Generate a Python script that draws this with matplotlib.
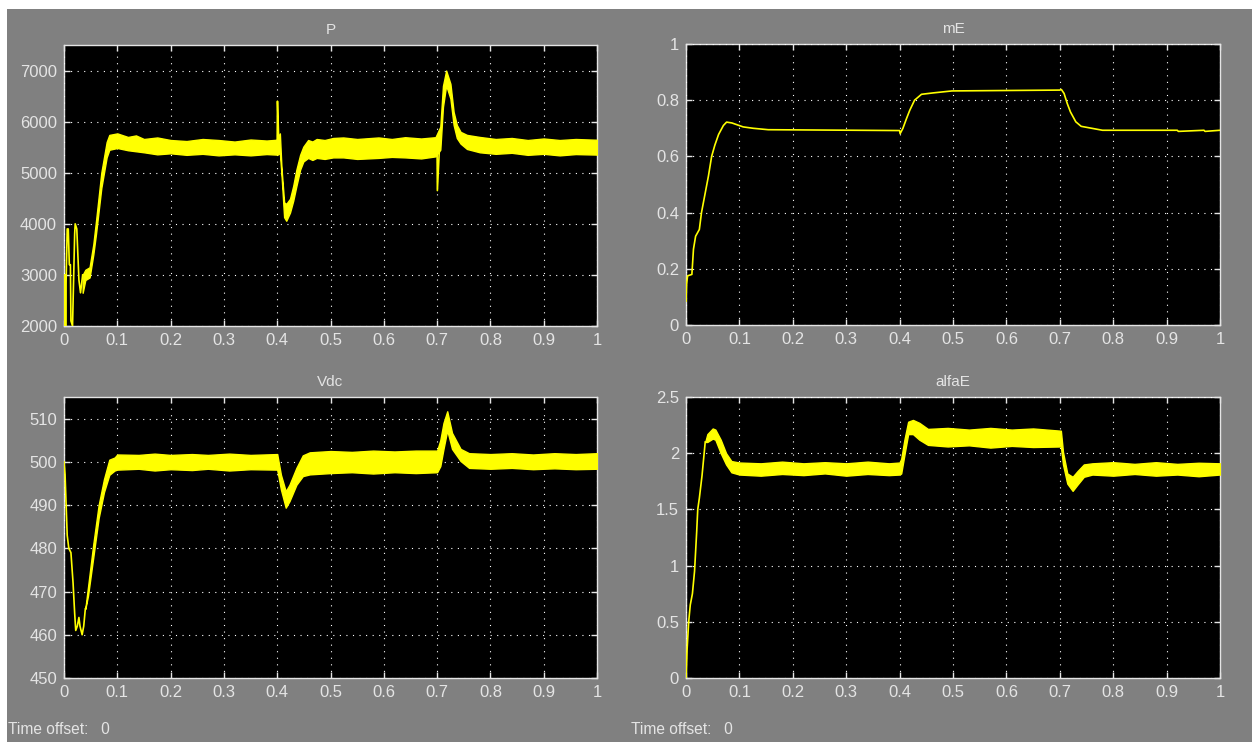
import matplotlib
matplotlib.use('Agg')
import matplotlib.pyplot as plt

plt.rcParams['font.family'] = ['Liberation Sans', 'DejaVu Sans']

P_thin_t = [0, 0.001, 0.002, 0.003, 0.004, 0.006, 0.008, 0.01, 0.012, 0.013, 0.016, 0.018, 0.02, 0.021,
            0.024, 0.026, 0.028, 0.031, 0.035]
P_thin = [2000, 3000, 3000, 2000, 2900, 3900, 3900, 3200, 3200, 2100, 2000, 2900, 3800, 4000,
          3900, 3400, 2900, 2650, 3000]
P_t = [0.035, 0.04, 0.048, 0.055, 0.06, 0.07, 0.08, 0.085, 0.1, 0.12, 0.135, 0.15, 0.175, 0.2, 0.23, 0.26, 0.29,
       0.32, 0.35, 0.38, 0.399, 0.401, 0.405, 0.408, 0.413, 0.417, 0.424, 0.43, 0.436, 0.443, 0.449, 0.458, 0.466,
       0.474, 0.489, 0.505, 0.524, 0.55, 0.59, 0.615, 0.64, 0.67, 0.697, 0.706, 0.711, 0.717, 0.725, 0.731, 0.737,
       0.744, 0.756, 0.78, 0.81, 0.84, 0.87, 0.9, 0.93, 0.96, 1]
P_hi = [3000, 3100, 3150, 3600, 4050, 5000, 5600, 5740, 5770, 5700, 5730, 5660, 5690, 5640, 5620, 5660, 5640,
        5610, 5650, 5630, 5645, 5700, 5770, 5100, 4420, 4390, 4490, 4740, 5060, 5350, 5510, 5640, 5610,
        5660, 5640, 5680, 5690, 5660, 5690, 5660, 5695, 5670, 5695, 5900, 6700, 7000, 6740, 6190, 5935,
        5800, 5740, 5700, 5660, 5680, 5640, 5670, 5640, 5660, 5645]
P_lo = [2650, 2900, 2950, 3400, 3800, 4700, 5300, 5450, 5484, 5440, 5420, 5400, 5360, 5380, 5350, 5370, 5340,
        5360, 5340, 5365, 5355, 5355, 5390, 4970, 4130, 4060, 4220, 4450, 4740, 5060, 5220, 5290, 5250,
        5290, 5270, 5300, 5300, 5270, 5290, 5310, 5300, 5280, 5320, 5450, 6290, 6710, 6450, 5935, 5680,
        5570, 5465, 5400, 5370, 5390, 5350, 5370, 5340, 5365, 5355]
P_spike1_t = [0.4, 0.4005, 0.403]
P_spike1 = [5600, 6400, 5600]
P_spike2_t = [0.7, 0.7005, 0.704]
P_spike2 = [5400, 4650, 5400]

mE_t = [0, 0.001, 0.003, 0.011, 0.014, 0.018, 0.025, 0.029, 0.036, 0.042, 0.048, 0.054, 0.061, 0.07, 0.076,
        0.086, 0.107, 0.126, 0.154, 0.4, 0.401, 0.406, 0.413, 0.419, 0.428, 0.441, 0.463, 0.498, 0.7, 0.703,
        0.708, 0.714, 0.72, 0.73, 0.74, 0.76, 0.78, 0.92, 0.922, 0.97, 0.972, 1]
mE = [0.085, 0.145, 0.175, 0.18, 0.27, 0.316, 0.34, 0.40, 0.47, 0.53, 0.60, 0.64, 0.678, 0.71, 0.722,
      0.719, 0.705, 0.70, 0.695, 0.692, 0.681, 0.699, 0.735, 0.764, 0.80, 0.821, 0.826, 0.833, 0.836, 0.838,
      0.824, 0.788, 0.758, 0.723, 0.707, 0.70, 0.693, 0.693, 0.689, 0.693, 0.689, 0.693]

Vdc_thin_t = [0, 0.002, 0.004, 0.006, 0.009, 0.013, 0.017, 0.02, 0.022, 0.025, 0.028, 0.03, 0.034, 0.037, 0.04]
Vdc_thin = [500, 497, 490, 483, 480, 479, 472, 465, 461, 462, 464, 462, 460, 462, 466]
Vdc_t = [0.04, 0.045, 0.055, 0.065, 0.075, 0.085, 0.095, 0.1, 0.14, 0.17, 0.2, 0.24, 0.27, 0.31, 0.35, 0.4,
         0.407, 0.416, 0.423, 0.436, 0.448, 0.461, 0.5, 0.54, 0.58, 0.62, 0.66, 0.7, 0.706, 0.712, 0.719, 0.728,
         0.744, 0.76, 0.8, 0.84, 0.88, 0.92, 0.96, 1]
Vdc_hi = [466, 471, 481, 490, 496, 500.5, 501, 501.7, 501.6, 501.9, 501.6, 501.8, 501.6, 501.9, 501.6, 501.8,
          497, 493.2, 494.7, 498.6, 501.5, 502.2, 502.5, 502.3, 502.6, 502.4, 502.6, 502.6, 505, 509, 511.7, 506.7,
          503, 502, 501.8, 502, 501.7, 502, 501.8, 502]
Vdc_lo = [466, 469, 478, 487, 493, 497, 498, 498.2, 498.4, 498, 498.3, 498.1, 498.4, 498, 498.3, 498.2,
          493.6, 489.4, 490.9, 494.7, 496.7, 497.1, 497.4, 497.6, 497.3, 497.6, 497.4, 497.6, 499, 503, 507.3, 503,
          500.2, 498.6, 498.4, 498.6, 498.3, 498.5, 498.3, 498.4]

alfa_thin_t = [0, 0.002, 0.005, 0.008, 0.012, 0.016, 0.02, 0.022, 0.025, 0.03, 0.034, 0.036]
alfa_thin = [0, 0.25, 0.5, 0.65, 0.75, 0.95, 1.3, 1.5, 1.6, 1.8, 2.0, 2.1]
alfa_t = [0.036, 0.04, 0.05, 0.055, 0.065, 0.075, 0.085, 0.1, 0.14, 0.18, 0.22, 0.26, 0.3, 0.34, 0.38, 0.4, 0.403,
          0.409, 0.416, 0.425, 0.437, 0.453, 0.49, 0.53, 0.57, 0.61, 0.65, 0.702, 0.706, 0.714, 0.724, 0.733,
          0.745, 0.761, 0.8, 0.84, 0.88, 0.92, 0.96, 1]
alfa_hi = [2.1, 2.17, 2.22, 2.21, 2.12, 2.0, 1.93, 1.917, 1.91, 1.925, 1.91, 1.92, 1.91, 1.925, 1.91, 1.917, 1.95,
           2.12, 2.28, 2.296, 2.27, 2.216, 2.225, 2.21, 2.225, 2.21, 2.22, 2.2, 2.01, 1.82, 1.79, 1.84,
           1.90, 1.91, 1.92, 1.905, 1.92, 1.905, 1.915, 1.91]
alfa_lo = [2.1, 2.1, 2.13, 2.12, 2.0, 1.9, 1.83, 1.81, 1.80, 1.815, 1.805, 1.82, 1.80, 1.815, 1.805, 1.81, 1.82,
           1.985, 2.17, 2.17, 2.12, 2.074, 2.06, 2.07, 2.05, 2.065, 2.055, 2.06, 1.90, 1.73, 1.665, 1.72,
           1.79, 1.81, 1.80, 1.815, 1.80, 1.81, 1.795, 1.81]

x_ticks = [0, 0.1, 0.2, 0.3, 0.4, 0.5, 0.6, 0.7, 0.8, 0.9, 1]
x_labels = ['0', '0.1', '0.2', '0.3', '0.4', '0.5', '0.6', '0.7', '0.8', '0.9', '1']

W, H = 1252, 742
YELLOW = '#ffff00'
GRAY = '#808080'
LIGHT = '#e4e4e4'


def make_axes(fig, left, top, right, bottom):
    ax = fig.add_axes([left / W, 1 - bottom / H, (right - left) / W, (bottom - top) / H])
    ax.set_facecolor('black')
    for s in ax.spines.values():
        s.set_color(LIGHT)
        s.set_linewidth(1)
    ax.set_xlim(0, 1)
    ax.set_xticks(x_ticks, x_labels)
    ax.tick_params(colors=LIGHT, labelsize=12, length=4, width=1, direction='in', pad=5,
                   top=True, right=True)
    ax.grid(True, color='white', linestyle=(0, (1, 4.9)), linewidth=0.8)
    ax.set_axisbelow(False)
    return ax


def band(ax, t, lo, hi):
    ax.fill_between(t, lo, hi, color=YELLOW, linewidth=1, zorder=3)


fig = plt.figure(figsize=(W / 100, H / 100), dpi=100, facecolor='white')
fig.add_artist(plt.Rectangle((7 / W, 0), 1 - 7 / W, 1 - 9 / H, transform=fig.transFigure, color=GRAY, lw=0,
                             zorder=-1))

ax1 = make_axes(fig, 64, 45, 597, 326)
ax1.set_ylim(2000, 7500)
ax1.set_yticks([2000, 3000, 4000, 5000, 6000, 7000])
ax1.plot(P_thin_t, P_thin, color=YELLOW, lw=1.2, zorder=3)
ax1.plot(P_spike1_t, P_spike1, color=YELLOW, lw=1.2, zorder=3)
ax1.plot(P_spike2_t, P_spike2, color=YELLOW, lw=1.2, zorder=3)
band(ax1, P_t, P_lo, P_hi)
ax1.set_title('P', color=LIGHT, fontsize=11, pad=8)

ax2 = make_axes(fig, 686, 44, 1220, 325)
ax2.set_ylim(0, 1)
ax2.set_yticks([0, 0.2, 0.4, 0.6, 0.8, 1], ['0', '0.2', '0.4', '0.6', '0.8', '1'])
ax2.plot(mE_t, mE, color=YELLOW, lw=1.2, zorder=3)
ax2.set_title('mE', color=LIGHT, fontsize=11, pad=8)

ax3 = make_axes(fig, 64, 397, 597, 678)
ax3.set_ylim(450, 515)
ax3.set_yticks([450, 460, 470, 480, 490, 500, 510])
ax3.plot(Vdc_thin_t, Vdc_thin, color=YELLOW, lw=1.2, zorder=3)
band(ax3, Vdc_t, Vdc_lo, Vdc_hi)
ax3.set_title('Vdc', color=LIGHT, fontsize=11, pad=8)

ax4 = make_axes(fig, 686, 397, 1220, 678)
ax4.set_ylim(0, 2.5)
ax4.set_yticks([0, 0.5, 1, 1.5, 2, 2.5], ['0', '0.5', '1', '1.5', '2', '2.5'])
ax4.plot(alfa_thin_t, alfa_thin, color=YELLOW, lw=1.2, zorder=3)
band(ax4, alfa_t, alfa_lo, alfa_hi)
ax4.set_title('alfaE', color=LIGHT, fontsize=11, pad=8)

fig.text(8 / W, 1 - 729 / H, 'Time offset:   0', color=LIGHT, fontsize=11.2, va='center')
fig.text(631 / W, 1 - 729 / H, 'Time offset:   0', color=LIGHT, fontsize=11.2, va='center')

fig.savefig('out.png', dpi=100, facecolor=fig.get_facecolor())
